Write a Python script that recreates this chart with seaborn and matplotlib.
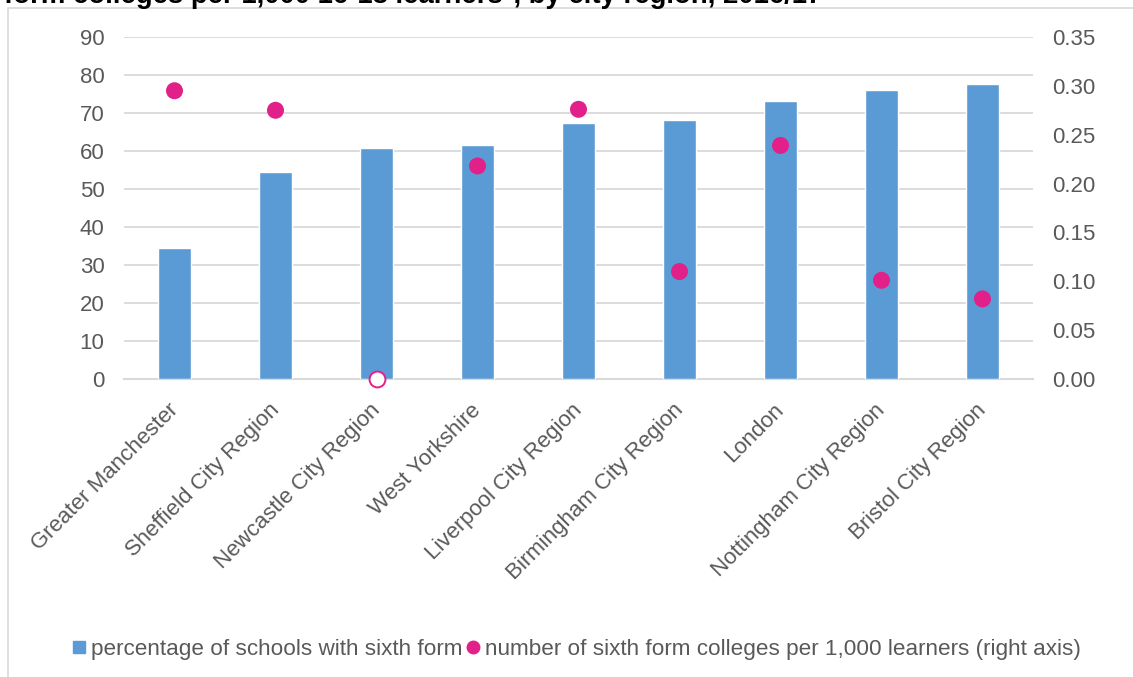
import numpy as np
import pandas as pd
import matplotlib
matplotlib.use("Agg")
import matplotlib.pyplot as plt
import matplotlib.transforms as mtransforms
from matplotlib.lines import Line2D
import seaborn as sns

# ---- data ----
regions = [
    "Greater Manchester",
    "Sheffield City Region",
    "Newcastle City Region",
    "West Yorkshire",
    "Liverpool City Region",
    "Birmingham City Region",
    "London",
    "Nottingham City Region",
    "Bristol City Region",
]
pct_sixth_form = [34.5, 54.4, 60.7, 61.5, 67.3, 68.1, 73.1, 76.1, 77.6]
colleges_per_1000 = [0.295, 0.275, 0.0, 0.218, 0.276, 0.110, 0.239, 0.101, 0.082]

left_ticks = [0, 10, 20, 30, 40, 50, 60, 70, 80, 90]
right_ticks = [0.00, 0.05, 0.10, 0.15, 0.20, 0.25, 0.30, 0.35]

title_visible = "form colleges per 1,000 16-18 learners*, by city region, 2016/17"
bar_label = "percentage of schools with sixth form"
dot_label = "number of sixth form colleges per 1,000 learners (right axis)"

BAR_COLOR = "#5B9BD5"
DOT_COLOR = "#E2208A"
GRID_COLOR = "#D9D9D9"
TEXT_COLOR = "#595959"

sns.set_theme(style="white")
plt.rcParams["font.family"] = ["Liberation Sans", "DejaVu Sans"]

df = pd.DataFrame({
    "region": regions,
    "pct": pct_sixth_form,
    "colleges": colleges_per_1000,
})
df["pos"] = np.arange(len(df))

W, H = 1133, 677
fig = plt.figure(figsize=(W / 100, H / 100), dpi=100)
ax = fig.add_axes([124 / W, 1 - 379 / H, (1033 - 124) / W, (379 - 37) / H])

sns.barplot(data=df, x="region", y="pct", color=BAR_COLOR, width=0.32,
            saturation=1, ax=ax, zorder=3)
ax.set_ylim(0, 90)
ax.set_xlim(-0.5, len(regions) - 0.5)
ax.set_yticks(left_ticks)
ax.set_yticklabels([str(t) for t in left_ticks])
ax.grid(axis="y", color=GRID_COLOR, linewidth=1.3, zorder=0)
ax.grid(axis="x", visible=False)
ax.set_axisbelow(True)
for s in ["left", "right", "top"]:
    ax.spines[s].set_visible(False)
ax.spines["bottom"].set_color(GRID_COLOR)
ax.spines["bottom"].set_linewidth(1.5)
ax.set_xlabel("")
ax.set_ylabel("")
ax.tick_params(axis="y", length=0, pad=14, labelsize=16, labelcolor=TEXT_COLOR)
ax.tick_params(axis="x", length=0, pad=15, labelsize=16, labelcolor=TEXT_COLOR)
ax.set_xticks(df["pos"])
ax.set_xticklabels(regions, rotation=45, ha="right", va="top",
                   rotation_mode="anchor")
offset = mtransforms.ScaledTranslation(-7 / 100, 0, fig.dpi_scale_trans)
for lbl in ax.get_xticklabels():
    lbl.set_transform(lbl.get_transform() + offset)

ax2 = ax.twinx()
nz = df[df["colleges"] > 0]
zr = df[df["colleges"] == 0]
sns.scatterplot(data=nz, x="pos", y="colleges", ax=ax2, color=DOT_COLOR,
                s=150, edgecolor="none", zorder=5, legend=False)
sns.scatterplot(data=zr, x="pos", y="colleges", ax=ax2, facecolor="white",
                edgecolor=DOT_COLOR, linewidth=1.4, s=130, zorder=5,
                legend=False)
ax2.set_ylim(0, 0.35)
ax2.set_xlim(-0.5, len(regions) - 0.5)
ax2.set_yticks(right_ticks)
ax2.set_yticklabels([f"{t:.2f}" for t in right_ticks])
ax2.tick_params(axis="y", length=0, pad=14, labelsize=16, labelcolor=TEXT_COLOR)
ax2.set_ylabel("")
ax2.set_xlabel("")
ax2.grid(False)
for s in ["left", "right", "top", "bottom"]:
    ax2.spines[s].set_visible(False)
for c in ax2.collections:
    c.set_clip_on(False)

# legend
handles = [
    Line2D([], [], marker="s", linestyle="none", markersize=9,
           markerfacecolor=BAR_COLOR, markeredgecolor=BAR_COLOR),
    Line2D([], [], marker="o", linestyle="none", markersize=9,
           markerfacecolor=DOT_COLOR, markeredgecolor=DOT_COLOR),
]
fig.legend(handles, [bar_label, dot_label], loc="center",
           bbox_to_anchor=(577 / W, 1 - 649 / H), ncol=2, frameon=False,
           fontsize=16.2, labelcolor=TEXT_COLOR, handlelength=0.5,
           handletextpad=0.3, columnspacing=0.2, borderpad=0)

# chart frame (left + top edges visible)
fig.add_artist(Line2D([8 / W, 8 / W, 1.0], [0.0, 1 - 8 / H, 1 - 8 / H],
                      transform=fig.transFigure, color=GRID_COLOR,
                      linewidth=1.2))

# partially visible title (cut at top, as in the reference)
fig.text(822 / W, 1 - 3 / H, title_visible, ha="right", va="baseline",
         fontsize=19.8, fontweight="bold", color="black")

fig.savefig("out.png", dpi=100)
